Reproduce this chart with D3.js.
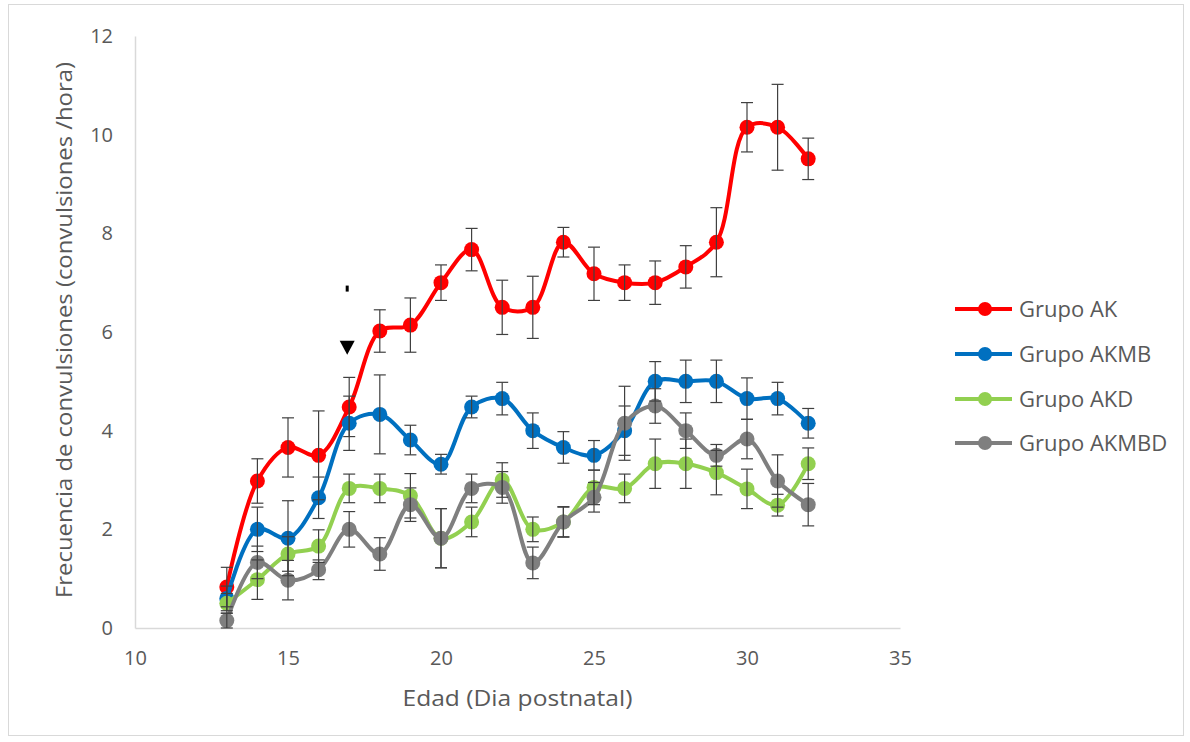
<!DOCTYPE html>
<html>
<head>
<meta charset="utf-8">
<script src="https://cdn.jsdelivr.net/npm/d3@7"></script>
<style>
  html, body { margin: 0; padding: 0; background: #ffffff; }
  svg { display: block; }
  text { font-family: "Open Sans", Lato, sans-serif; fill: #595959; }
</style>
</head>
<body>
<svg id="chart" width="1190" height="742"></svg>
<script>
// ---- data ----
const days = [13,14,15,16,17,18,19,20,21,22,23,24,25,26,27,28,29,30,31,32];
const seriesNames = ["Grupo AK", "Grupo AKMB", "Grupo AKD", "Grupo AKMBD"];
const seriesColors = ["#FF0000", "#0070C0", "#92D050", "#7F7F7F"];

const akValues    = [0.83,2.98,3.66,3.5,4.48,6.02,6.14,7.0,7.67,6.5,6.5,7.82,7.18,7.0,7.0,7.32,7.82,10.15,10.15,9.51];
const akErrors    = [0.4,0.45,0.6,0.9,0.6,0.43,0.55,0.36,0.43,0.55,0.63,0.3,0.54,0.36,0.44,0.43,0.7,0.5,0.87,0.42];

const akmbValues  = [0.6,2.0,1.82,2.64,4.15,4.33,3.81,3.32,4.48,4.65,4.0,3.66,3.5,4.0,5.0,5.0,5.0,4.65,4.65,4.15];
const akmbErrors  = [0.25,0.45,0.76,0.42,0.55,0.8,0.3,0.2,0.22,0.33,0.36,0.32,0.3,0.5,0.4,0.43,0.43,0.42,0.33,0.3];

const akdValues   = [0.5,0.98,1.5,1.66,2.83,2.83,2.68,1.82,2.15,3.0,2.0,2.15,2.85,2.83,3.33,3.33,3.15,2.82,2.49,3.33];
const akdErrors   = [0.2,0.4,0.35,0.33,0.29,0.29,0.45,0.6,0.3,0.35,0.25,0.3,0.35,0.29,0.5,0.5,0.45,0.4,0.22,0.32];

const akmbdValues = [0.15,1.33,0.97,1.18,2.0,1.5,2.5,1.82,2.83,2.85,1.32,2.15,2.65,4.15,4.5,4.0,3.5,3.83,2.98,2.5];
const akmbdErrors = [0.15,0.33,0.4,0.2,0.36,0.33,0.34,0.6,0.29,0.32,0.32,0.31,0.3,0.75,0.35,0.36,0.22,0.4,0.53,0.43];

const xTicks = [10,15,20,25,30,35];
const yTicks = [0,2,4,6,8,10,12];
const xTitle = "Edad (Dia postnatal)";
const yTitle = "Frecuencia de  convulsiones (convulsiones /hora)";

// annotations at day 17 (triangle marker and small tick mark)
const triangleMark = {day: 17, value: 5.68};
const tickMark = {day: 17, value: 6.88};

const allValues = [akValues, akmbValues, akdValues, akmbdValues];
const allErrors = [akErrors, akmbErrors, akdErrors, akmbdErrors];

// ---- drawing ----
const svg = d3.select("#chart");

// outer frame
svg.append("rect").attr("x", 8.5).attr("y", 4.5).attr("width", 1175).attr("height", 731)
  .attr("fill", "none").attr("stroke", "#d9d9d9").attr("stroke-width", 1);

const x = d3.scaleLinear().domain([10, 35]).range([135, 900]);
const y = d3.scaleLinear().domain([0, 12]).range([628, 36]);

// axes
const xAxis = svg.append("g").attr("transform", `translate(0,${y(0)})`)
  .call(d3.axisBottom(x).tickValues(xTicks).tickSize(0).tickPadding(23).tickFormat(d3.format("d")));
xAxis.select(".domain").attr("stroke", "#d9d9d9").attr("stroke-width", 1.5);
xAxis.selectAll("text").style("font-size", "20px").attr("fill", "#595959");

const yAxis = svg.append("g").attr("transform", `translate(${x(10)},0)`)
  .call(d3.axisLeft(y).tickValues(yTicks).tickSize(0).tickPadding(22).tickFormat(d3.format("d")));
yAxis.select(".domain").attr("stroke", "#d9d9d9").attr("stroke-width", 1.5);
yAxis.selectAll("text").style("font-size", "20px").attr("fill", "#595959");

// titles
svg.append("text").attr("x", 517.5).attr("y", 706).attr("text-anchor", "middle")
  .attr("textLength", 230).attr("lengthAdjust", "spacingAndGlyphs")
  .style("font-size", "21px").text(xTitle);
svg.append("text").attr("transform", `translate(72,330) rotate(-90)`).attr("text-anchor", "middle")
  .attr("textLength", 536).attr("lengthAdjust", "spacingAndGlyphs")
  .style("font-size", "21px").text(yTitle);

// lines + markers
const line = d3.line().x(d => x(d[0])).y(d => y(d[1])).curve(d3.curveCatmullRom.alpha(0.5));

allValues.forEach((vals, i) => {
  const pts = days.map((d, j) => [d, vals[j]]);
  const g = svg.append("g");
  g.append("path").attr("d", line(pts)).attr("fill", "none")
    .attr("stroke", seriesColors[i]).attr("stroke-width", 4);
  g.selectAll("circle").data(pts).enter().append("circle")
    .attr("cx", d => x(d[0])).attr("cy", d => y(d[1])).attr("r", 7.5)
    .attr("fill", seriesColors[i]);
});

// error bars
allValues.forEach((vals, i) => {
  const g = svg.append("g").attr("stroke", "#404040").attr("stroke-width", 1.2);
  days.forEach((d, j) => {
    const cx = x(d), top = y(vals[j] + allErrors[i][j]), bot = y(vals[j] - allErrors[i][j]);
    g.append("line").attr("x1", cx).attr("x2", cx).attr("y1", top).attr("y2", bot);
    g.append("line").attr("x1", cx - 6).attr("x2", cx + 6).attr("y1", top).attr("y2", top);
    g.append("line").attr("x1", cx - 6).attr("x2", cx + 6).attr("y1", bot).attr("y2", bot);
  });
});

// annotations
const tx = x(triangleMark.day) - 2, ty = y(triangleMark.value);
svg.append("path").attr("d", `M${tx-7.5},${ty-7} L${tx+7.5},${ty-7} L${tx},${ty+7} Z`).attr("fill", "#000");
svg.append("rect").attr("x", x(tickMark.day) - 3.5).attr("y", y(tickMark.value) - 3)
  .attr("width", 3).attr("height", 6).attr("fill", "#000");

// legend
const legend = svg.append("g");
const legendY = [309, 354, 399, 443];
seriesNames.forEach((name, i) => {
  const ly = legendY[i];
  legend.append("line").attr("x1", 955).attr("x2", 1012).attr("y1", ly).attr("y2", ly)
    .attr("stroke", seriesColors[i]).attr("stroke-width", 4);
  legend.append("circle").attr("cx", 985).attr("cy", ly).attr("r", 7).attr("fill", seriesColors[i]);
  legend.append("text").attr("x", 1019).attr("y", ly + 8).style("font-size", "22px").text(name);
});
</script>
</body>
</html>
